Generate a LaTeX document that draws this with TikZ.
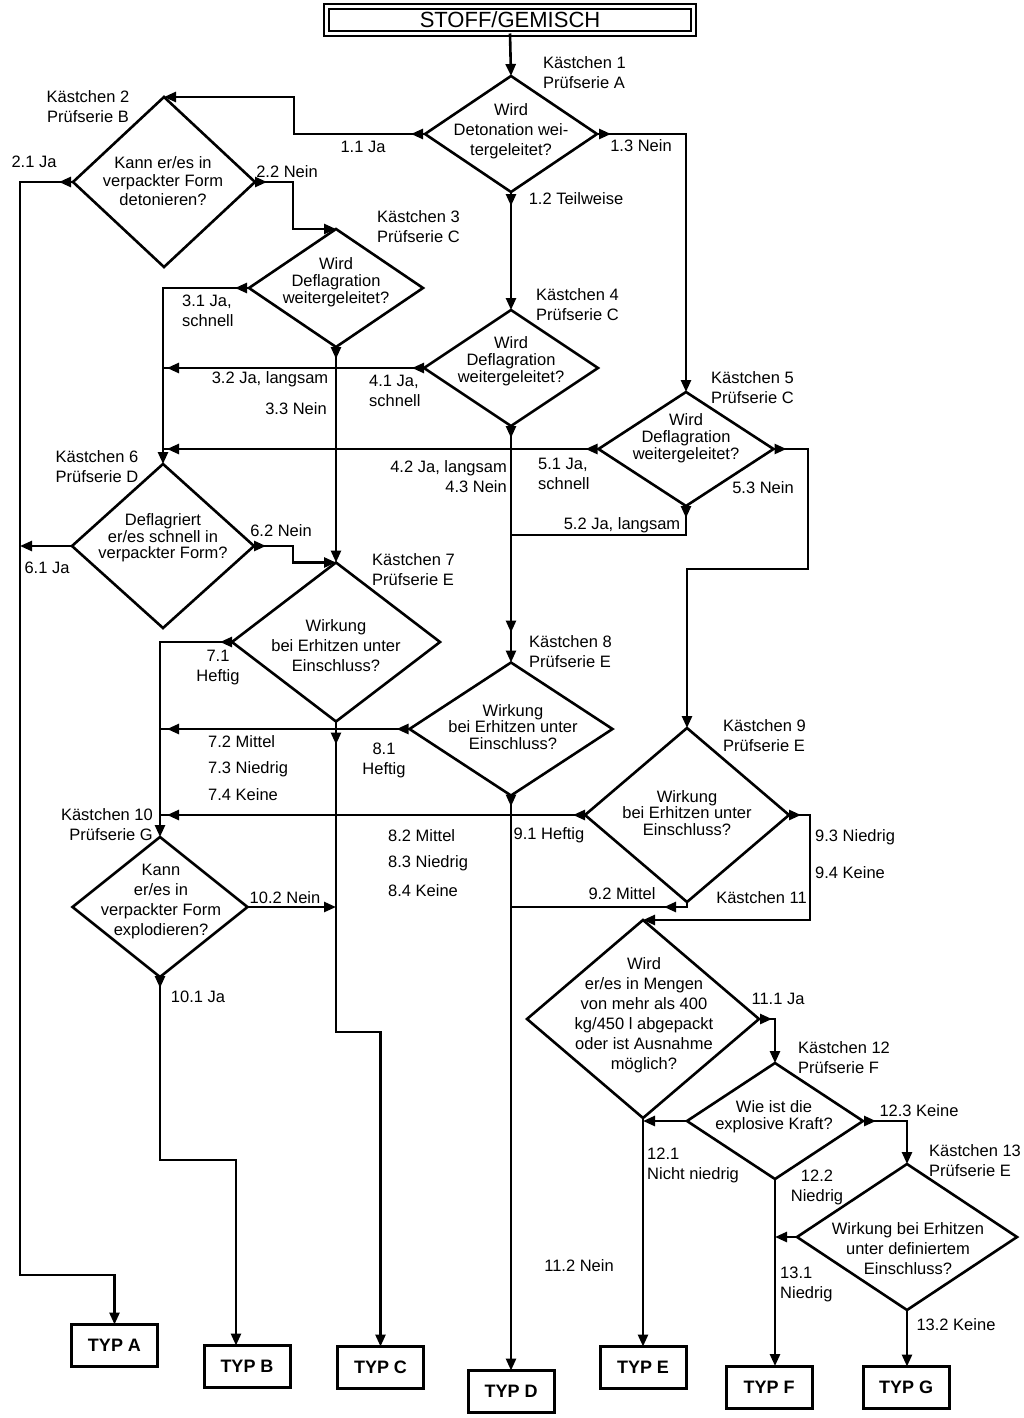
\documentclass[tikz,border=0pt]{standalone}
\usepackage{fontspec}
\setmainfont{Liberation Sans}
\usetikzlibrary{shapes.geometric,arrows.meta,decorations.markings}
\newcommand\myfs{\fontsize{16.5}{20}\selectfont}
\begin{document}
\begin{tikzpicture}[x=1pt,y=-1pt,
 ln/.style={line width=2.6pt},
 arr/.style={-{Triangle[length=12pt,width=10pt]}},
 mk/.style={postaction={decorate,decoration={markings,mark=at position #1 with {\arrow{Triangle[length=12pt,width=10pt]}}}}},
 dia/.style 2 args={draw,diamond,line width=2.6pt,inner sep=0pt,outer sep=0pt,minimum width=#1,minimum height=#2},
 every node/.style={font=\myfs,inner sep=0pt},
 lbl/.style={align=center},
 sp/.style={font=\fontsize{16.5}{#1}\selectfont},
 typ/.style={draw,line width=3pt,outer sep=0pt,minimum width=86pt,minimum height=42pt,font=\fontsize{18}{20}\selectfont\bfseries},
]
\useasboundingbox (0,0) rectangle (1023,1418);

% title
\node[draw,line width=2pt,double distance=3pt,outer sep=0pt,minimum width=367pt,minimum height=27pt,font=\fontsize{22}{24}\selectfont] (start) at (510,20) {STOFF/GEMISCH};

% diamonds
\node[dia={172}{116}] (d1) at (511,134) {};
\node[dia={182}{170}] (d2) at (164,182) {};
\node[dia={174}{118}] (d3) at (336,288) {};
\node[dia={174}{116}] (d4) at (511,368) {};
\node[dia={175}{114}] (d5) at (686,449) {};
\node[dia={182}{164}] (d6) at (163,546) {};
\node[dia={208}{159}] (d7) at (336,642) {};
\node[dia={203}{133}] (d8) at (511,729) {};
\node[dia={204}{174}] (d9) at (687,815) {};
\node[dia={175}{140}] (d10) at (160,907) {};
\node[dia={232}{198}] (d11) at (643,1019) {};
\node[dia={176}{116}] (d12) at (775,1121) {};
\node[dia={220}{146}] (d13) at (907,1237) {};

% diamond texts
\node[lbl,sp=20] (t1) at (511,131) {Wird\\Detonation wei-\\tergeleitet?};
\node[lbl,sp=18.5] (t2) at (163,181) {Kann er/es in\\verpackter Form\\detonieren?};
\node[lbl,sp=17] (t3) at (336,282) {Wird\\Deflagration\\weitergeleitet?};
\node[lbl,sp=17] (t4) at (511,361) {Wird\\Deflagration\\weitergeleitet?};
\node[lbl,sp=17] (t5) at (686,438) {Wird\\Deflagration\\weitergeleitet?};
\node[lbl,sp=16.5] (t6) at (163,538) {Deflagriert\\er/es schnell in\\verpackter Form?};
\node[lbl,sp=20] (t7) at (336,646) {Wirkung\\bei Erhitzen unter\\Einschluss?};
\node[lbl,sp=16.5] (t8) at (513,727) {Wirkung\\bei Erhitzen unter\\Einschluss?};
\node[lbl,sp=16.5] (t9) at (687,813) {Wirkung\\bei Erhitzen unter\\Einschluss?};
\node[lbl,sp=20] (t10) at (161,902) {Kann\\er/es in\\verpackter Form\\explodieren?};
\node[lbl,sp=20] (t11) at (644,1015) {Wird\\er/es in Mengen\\von mehr als 400\\kg/450 l abgepackt\\oder ist Ausnahme\\möglich?};
\node[lbl,sp=17] (t12) at (774,1117) {Wie ist die\\explosive Kraft?};
\node[lbl,sp=20] (t13) at (908,1249) {Wirkung bei Erhitzen\\unter definiertem\\Einschluss?};

% result boxes
\node[typ] (typa) at (114.5,1345.5) {TYP A};
\node[typ] (typb) at (247,1366.5) {TYP B};
\node[typ] (typc) at (380.5,1367.5) {TYP C};
\node[typ] (typd) at (511,1391.5) {TYP D};
\node[typ] (type) at (643,1367.5) {TYP E};
\node[typ] (typf) at (769,1387) {TYP F};
\node[typ] (typg) at (906,1387.5) {TYP G};

% helper coordinates
\coordinate (lft) at (20,0);
\coordinate (j52) at (511,535);
\coordinate (j92) at (511,907);

% connectors
\draw[ln,arr] (start.south) -- (d1.north);
\draw[ln,arr,mk=14pt] (d1.west) -| ([xshift=130pt]d2.north) -- (d2.north);
\draw[ln,arr,mk=14pt] (d1.south) -- (d4.north);
\draw[ln,arr,mk=14pt] (d1.east) -| (d5.north);
\draw[ln,arr,mk=14pt] (d2.west) -| (20,1275) -| (typa.north);
\draw[ln,arr,mk=12pt] (d2.east) -| ([xshift=-43pt]d3.north) -- (d3.north);
\draw[ln,arr,mk=14pt] (d3.west) -| (d6.north);
\draw[ln,arr,mk=12pt] (d3.south) -- (d7.north);
\draw[ln,mk=12pt,mk=-4pt] (d4.west) -- (d4.west -| d6.north);
\draw[ln,arr,mk=12pt,mk=-30pt] (d4.south) -- (d8.north);
\draw[ln,mk=13pt,mk=-4pt] (d5.west) -- (d5.west -| d6.north);
\draw[ln,mk=12pt] (d5.south) |- (j52);
\draw[ln,arr,mk=13pt] (d5.east) -| (808,569) -| (d9.north);
\draw[ln,arr] (d6.west) -- (d6.west -| lft);
\draw[ln,arr,mk=12pt] (d6.east) -| ([xshift=-43pt]d7.north) -- (d7.north);
\draw[ln,arr,mk=12pt] (d7.west) -| (d10.north);
\draw[ln,arr,mk=23pt] (d7.south) -- (336,1032) -| (typc.north);
\draw[ln,mk=13pt,mk=-7pt] (d8.west) -- (d8.west -| d10.north);
\draw[ln,arr,mk=11pt] (d8.south) -- (typd.north);
\draw[ln,mk=12pt,mk=-7pt] (d9.west) -- (d9.west -| d10.north);
\draw[ln,mk=28pt] (d9.south) |- (j92);
\draw[ln,arr,mk=12pt] (d9.east) -| (810,920) -- (d11.north);
\draw[ln,arr] (d10.east) -- (d10.east -| d7.south);
\draw[ln,arr,mk=11pt] (d10.south) -- (160,1160) -| ([xshift=-11pt]typb.north);
\draw[ln,arr,mk=13pt] (d11.east) -| (d12.north);
\draw[ln,arr] (d11.south) -- (type.north);
\draw[ln,arr] (d12.west) -- (d12.west -| d11.south);
\draw[ln,arr] (d12.south) -- (d12.south |- typf.north);
\draw[ln,arr,mk=13pt] (d12.east) -| (d13.north);
\draw[ln,arr] (d13.west) -- (d13.west -| d12.south);
\draw[ln,arr] (d13.south) -- (d13.south |- typg.north);

% box labels
\node[anchor=west,align=left] (k1) at (543,73) {Kästchen 1\\Prüfserie A};
\node[align=center] (k2) at (88,107) {Kästchen 2\\Prüfserie B};
\node[anchor=west,align=left] (k3) at (377,227) {Kästchen 3\\Prüfserie C};
\node[anchor=west,align=left] (k4) at (536,305) {Kästchen 4\\Prüfserie C};
\node[anchor=west,align=left] (k5) at (711,388) {Kästchen 5\\Prüfserie C};
\node[align=center] (k6) at (97,467) {Kästchen 6\\Prüfserie D};
\node[anchor=west,align=left] (k7) at (372,570) {Kästchen 7\\Prüfserie E};
\node[anchor=west,align=left] (k8) at (529,652) {Kästchen 8\\Prüfserie E};
\node[anchor=west,align=left] (k9) at (723,736) {Kästchen 9\\Prüfserie E};
\node[anchor=east,align=right] (k10) at (153,825) {Kästchen 10\\Prüfserie G};
\node[anchor=east] (k11) at (807,898) {Kästchen 11};
\node[anchor=west,align=left] (k12) at (798,1058) {Kästchen 12\\Prüfserie F};
\node[anchor=west,align=left] (k13) at (929,1161) {Kästchen 13\\Prüfserie E};

% edge labels
\node (l11) at (363,147) {1.1 Ja};
\node (l12) at (576,199) {1.2 Teilweise};
\node (l13) at (641,146) {1.3 Nein};
\node (l21) at (34,162) {2.1 Ja};
\node (l22) at (287,172) {2.2 Nein};
\node[anchor=west,align=left] (l31) at (182,311) {3.1 Ja,\\schnell};
\node (l32) at (270,379) {3.2 Ja, langsam};
\node (l33) at (296,409) {3.3 Nein};
\node[anchor=west,align=left] (l41) at (369,391) {4.1 Ja,\\schnell};
\node[anchor=east,align=right] (l42) at (507,477) {4.2 Ja, langsam\\4.3 Nein};
\node[anchor=west,align=left] (l51) at (538,474) {5.1 Ja,\\schnell};
\node (l52) at (622,525) {5.2 Ja, langsam};
\node (l53) at (763,488) {5.3 Nein};
\node (l61) at (47,568) {6.1 Ja};
\node (l62) at (281,531) {6.2 Nein};
\node[lbl] (l71) at (218,668) {7.1\\Heftig};
\node[anchor=west] (l72) at (208,742) {7.2 Mittel};
\node[anchor=west] (l73) at (208,769) {7.3 Niedrig};
\node[anchor=west] (l74) at (208,795) {7.4 Keine};
\node[lbl] (l81) at (384,760) {8.1\\Heftig};
\node[anchor=west] (l82) at (388,836) {8.2 Mittel};
\node[anchor=west] (l83) at (388,863) {8.3 Niedrig};
\node[anchor=west] (l84) at (388,891) {8.4 Keine};
\node (l91) at (549,835) {9.1 Heftig};
\node (l92) at (622,894) {9.2 Mittel};
\node[anchor=west] (l93) at (815,837) {9.3 Niedrig};
\node[anchor=west] (l94) at (815,873) {9.4 Keine};
\node (l101) at (198,997) {10.1 Ja};
\node (l102) at (285,898) {10.2 Nein};
\node (l111) at (778,999) {11.1 Ja};
\node (l112) at (579,1266) {11.2 Nein};
\node[anchor=west,align=left] (l121) at (647,1165) {12.1\\Nicht niedrig};
\node[lbl] (l122) at (817,1187) {12.2\\Niedrig};
\node (l123) at (919,1111) {12.3 Keine};
\node[anchor=west,align=left] (l131) at (780,1284) {13.1\\Niedrig};
\node (l132) at (956,1325) {13.2 Keine};
\end{tikzpicture}
\end{document}
